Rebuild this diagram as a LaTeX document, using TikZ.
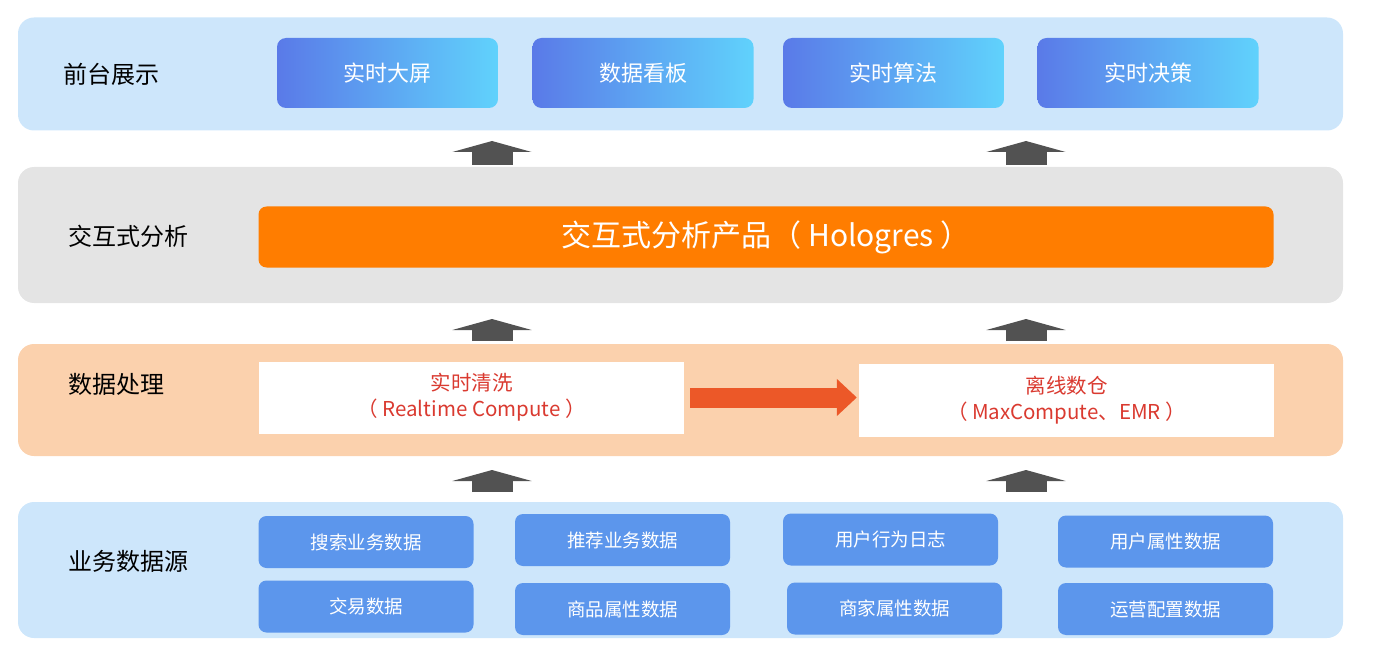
\documentclass[tikz,border=0pt]{standalone}
\usepackage{fontspec}
\setmainfont{Noto Sans CJK SC}
\usetikzlibrary{arrows.meta}
\definecolor{bleuClair}{RGB}{205,230,251}
\definecolor{grisClair}{RGB}{228,228,228}
\definecolor{peche}{RGB}{251,209,173}
\definecolor{bleuG}{RGB}{90,122,232}
\definecolor{bleuD}{RGB}{96,210,252}
\definecolor{bleuS}{RGB}{92,150,236}
\definecolor{orangeP}{RGB}{255,125,0}
\definecolor{orangeF}{RGB}{236,88,40}
\definecolor{rougeT}{RGB}{218,58,48}
\definecolor{grisF}{RGB}{82,82,82}
\begin{document}
\begin{tikzpicture}[x=1pt,y=-1pt]
		% Styles
		\tikzstyle{couche}=[rounded corners=16pt,inner sep=0pt,minimum width=1325pt]
		\tikzstyle{titre}=[anchor=west,inner sep=0pt,text=black,font=\fontsize{24}{28}\selectfont]
		\tikzstyle{ecran}=[rounded corners=9pt,inner sep=0pt,left color=bleuG,right color=bleuD,text=white,font=\fontsize{22}{26}\selectfont,minimum width=221pt,minimum height=70pt]
		\tikzstyle{source}=[rounded corners=8pt,inner sep=0pt,fill=bleuS,text=white,font=\fontsize{18.5}{22}\selectfont,minimum width=215pt,minimum height=52pt]
		\tikzstyle{traitement}=[inner sep=0pt,fill=white,text=rougeT,align=center,font=\fontsize{20.5}{26}\selectfont,minimum height=72pt]
		\tikzstyle{montee}=[line width=41pt,draw=grisF,-{Triangle[length=11pt,width=79pt]}]
		\tikzstyle{flux}=[line width=20pt,draw=orangeF,-{Triangle[length=20pt,width=36pt]}]
		% Dimensions
		\def\ColG{492}
		\def\ColD{1026}
		\useasboundingbox (0,0) rectangle (1400,671);
		% Couches
		\node[couche,fill=bleuClair,minimum height=113pt] (affichage) at (680.5,74) {};
		\node[couche,fill=grisClair,minimum height=136pt] (analyse) at (680.5,235) {};
		\node[couche,fill=peche,minimum height=112pt] (traitement) at (680.5,400) {};
		\node[couche,fill=bleuClair,minimum height=136pt] (sources) at (680.5,570) {};
		% Titres
		\node[titre] (tAffichage) at (63,74) {前台展示};
		\node[titre] (tAnalyse) at (68,236) {交互式分析};
		\node[titre] (tTraitement) at (68,384) {数据处理};
		\node[titre] (tSources) at (68,561) {业务数据源};
		% Front
		\node[ecran] (ecran1) at (387.5,73) {实时大屏};
		\node[ecran] (ecran2) at (643,73) {数据看板};
		\node[ecran] (ecran3) at (893.5,73) {实时算法};
		\node[ecran] (ecran4) at (1148,73) {实时决策};
		% Analyse
		\node[rounded corners=8pt,inner sep=0pt,fill=orangeP,text=white,minimum width=1015pt,minimum height=61pt,font=\fontsize{30}{34}\selectfont] (holo) at (766,237) {交互式分析产品（ Hologres ）};
		% Traitement
		\node[traitement,minimum width=425pt] (temps) at (471.5,397.5) {实时清洗\\（ Realtime Compute ）};
		\node[traitement,minimum width=415pt,minimum height=73pt] (horsligne) at (1066.5,400.5) {离线数仓\\（ MaxCompute、EMR ）};
		% Sources
		\node[source] (s1) at (366,542) {搜索业务数据};
		\node[source] (s2) at (622.5,540) {推荐业务数据};
		\node[source] (s3) at (890.5,539.5) {用户行为日志};
		\node[source] (s4) at (1165.5,541.5) {用户属性数据};
		\node[source] (s5) at (366,606.5) {交易数据};
		\node[source] (s6) at (622.5,609) {商品属性数据};
		\node[source] (s7) at (894.5,608.5) {商家属性数据};
		\node[source] (s8) at (1165.5,609) {运营配置数据};
		% Points des fleches
		\coordinate (a1) at (\ColG,165); \coordinate (b1) at (\ColG,141);
		\coordinate (a2) at (\ColD,165); \coordinate (b2) at (\ColD,141);
		\coordinate (a3) at (\ColG,341); \coordinate (b3) at (\ColG,319);
		\coordinate (a4) at (\ColD,341); \coordinate (b4) at (\ColD,319);
		\coordinate (a5) at (\ColG,492); \coordinate (b5) at (\ColG,470);
		\coordinate (a6) at (\ColD,492); \coordinate (b6) at (\ColD,470);
		% Fleches
		\draw[montee] (a1)--(b1);
		\draw[montee] (a2)--(b2);
		\draw[montee] (a3)--(b3);
		\draw[montee] (a4)--(b4);
		\draw[montee] (a5)--(b5);
		\draw[montee] (a6)--(b6);
		\draw[flux] ([xshift=6pt]temps.east)--([xshift=-2pt]horsligne.west|-temps.east);
	\end{tikzpicture}
\end{document}
